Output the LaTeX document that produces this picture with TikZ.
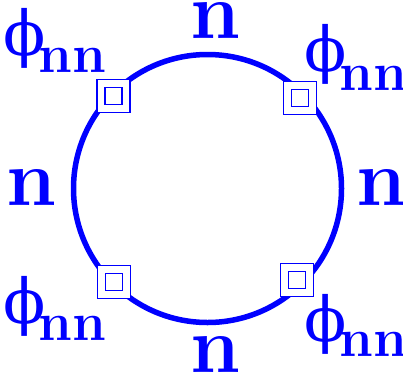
\documentclass[tikz,border=0pt]{standalone}
\usepackage{fontspec}
\newfontfamily\phifont{DejaVu Serif}
\definecolor{pblue}{RGB}{0,0,255}
\begin{document}
\begin{tikzpicture}[x=1pt,y=-1pt,
  lbl/.style={text=pblue,inner sep=0pt,font=\fontsize{80}{80}\selectfont\bfseries},
  sub/.style={text=pblue,inner sep=0pt,anchor=base,font=\fontsize{54}{54}\selectfont\bfseries},
  phisym/.style={text=pblue,inner sep=0pt,font=\fontsize{62}{62}\selectfont\phifont},
  outerbox/.style={draw=pblue,fill=white,line width=1.5pt,minimum size=33pt,inner sep=0pt},
  innerbox/.style={draw=pblue,line width=1.5pt,minimum size=17pt,inner sep=0pt}]
\useasboundingbox (0,0) rectangle (403,380);
\draw[pblue,line width=5.5pt] (207.5,188.5) circle[radius=134];
% markers
\node[outerbox] (m1) at (113.5,96) {};
\node[innerbox] (i1) at (m1.center) {};
\node[outerbox] (m2) at (300,98) {};
\node[innerbox] (i2) at (m2.center) {};
\node[outerbox] (m3) at (114,282) {};
\node[innerbox] (i3) at (m3.center) {};
\node[outerbox] (m4) at (297,280) {};
\node[innerbox] (i4) at (m4.center) {};
% n labels
\node[lbl] (nt) at (215,20.5) {n};
\node[lbl] (nl) at (31,187) {n};
\node[lbl] (nr) at (381,187.5) {n};
\node[lbl] (nb) at (215,354) {n};
% phi labels
\node[phisym] (p1) at (25,38) {ϕ};
\node[sub] (s1) at (72,72) {nn};
\node[phisym] (p2) at (326,54.5) {ϕ};
\node[sub] (s2) at (373,90) {nn};
\node[phisym] (p3) at (24.5,306.5) {ϕ};
\node[sub] (s3) at (72,340) {nn};
\node[phisym] (p4) at (325.5,324) {ϕ};
\node[sub] (s4) at (373,356) {nn};
\end{tikzpicture}
\end{document}
